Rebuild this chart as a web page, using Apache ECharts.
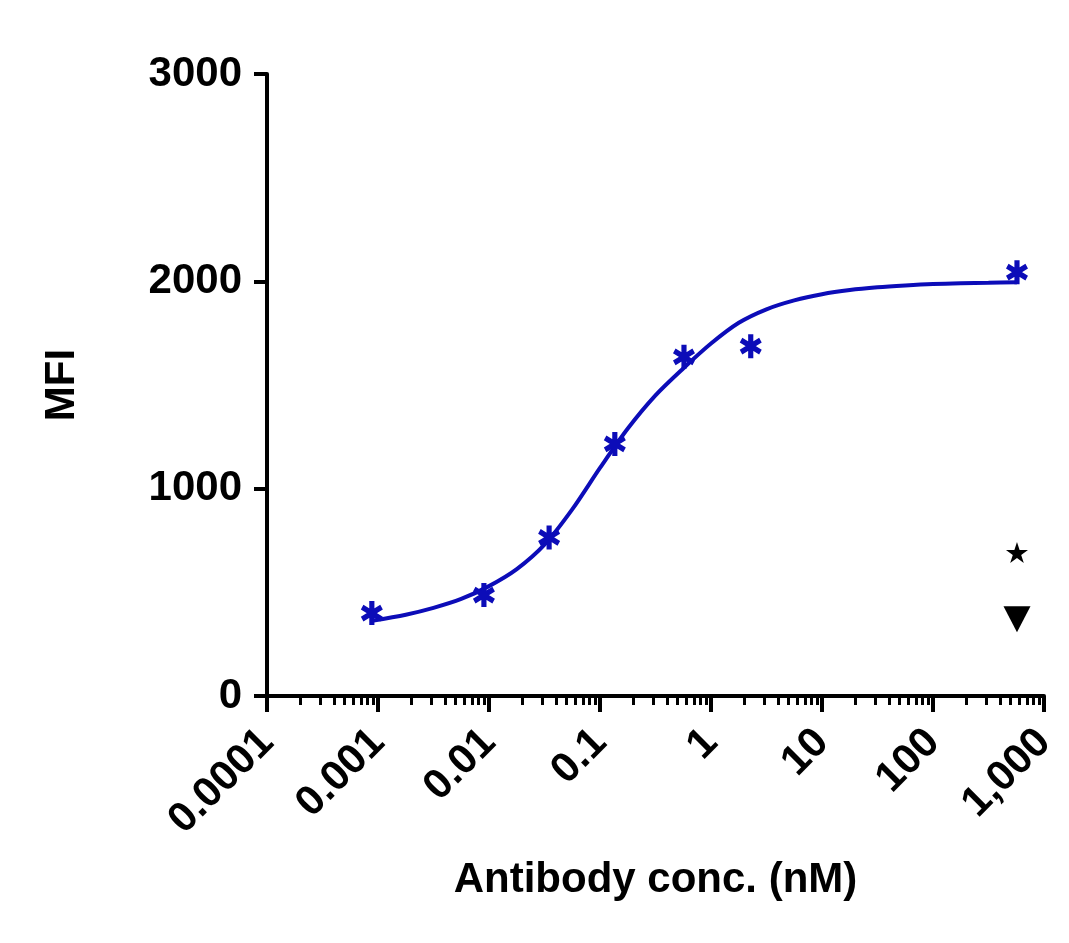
<!DOCTYPE html>
<html>
<head>
<meta charset="utf-8">
<title>MFI vs antibody concentration</title>
<script src="https://cdn.jsdelivr.net/npm/echarts@6/dist/echarts.min.js"></script>
<style>
  html, body { margin: 0; padding: 0; background: #fff; }
  #chart { width: 1069px; height: 943px; }
</style>
</head>
<body>
<div id="chart"></div>
<script>
// measured points (antibody conc in nM, MFI)
var conc = [0.00088, 0.0090, 0.0348, 0.136, 0.571, 2.28, 571];
var mfi = [400, 487, 765, 1216, 1636, 1687, 2044];

// fitted curve
var curveConc = [0.000883, 0.00178, 0.00316, 0.00562, 0.01, 0.0178, 0.0316, 0.0562, 0.1, 0.178, 0.316, 0.562,
  1, 1.78, 3.16, 5.62, 10, 17.8, 31.6, 56.2, 100, 178, 316, 571];
var curveMfi = [363, 392, 425, 468, 530, 612, 730, 900, 1100, 1290, 1450, 1580,
  1700, 1800, 1865, 1908, 1938, 1958, 1971, 1980, 1987, 1991, 1993, 1995];

// controls at the top concentration
var starConc = [571];
var starMfi = [692];
var triConc = [571];
var triMfi = [370];

var xTickLabels = ['0.0001', '0.001', '0.01', '0.1', '1', '10', '100', '1,000'];
var yTicks = [0, 1000, 2000, 3000];

var blue = '#0c0cb8';
var font = "'Liberation Sans', Arial, sans-serif";

var asterisk = 'path://M7.7 0L12.3 0L12.3 20L7.7 20Z' +
  'M2.49 16.99L0.19 13.01L17.51 3.01L19.81 6.99Z' +
  'M19.81 13.01L17.51 16.99L0.19 6.99L2.49 3.01Z';
var star = 'path://M10 0L12.25 6.91L19.51 6.91L13.63 11.18L15.88 18.09L10 13.82L4.12 18.09L6.37 11.18L0.49 6.91L7.75 6.91Z';

function pairs(xs, ys) {
  return xs.map(function (x, i) { return [x, ys[i]]; });
}

// minor ticks 2..9 in every decade
var minorTicks = [];
for (var d = -4; d < 3; d++) {
  for (var m = 2; m <= 9; m++) {
    minorTicks.push(m * Math.pow(10, d));
  }
}

var myChart = echarts.init(document.getElementById('chart'));

var option = {
  animation: false,
  grid: { left: 267, right: 25, top: 74, bottom: 247, containLabel: false },
  xAxis: [
    {
      type: 'log',
      logBase: 10,
      min: 0.0001,
      max: 1000,
      name: 'Antibody conc. (nM)',
      nameLocation: 'middle',
      nameGap: 163,
      nameTextStyle: { fontFamily: font, fontWeight: 'bold', fontSize: 42, color: '#000' },
      axisLine: { onZero: false, lineStyle: { color: '#000', width: 4 } },
      axisTick: { length: 16, lineStyle: { color: '#000', width: 4 } },
      axisLabel: {
        rotate: 45,
        margin: 40,
        fontFamily: font, fontWeight: 'bold', fontSize: 42, color: '#000',
        formatter: function (v) {
          return xTickLabels[Math.round(Math.log10(v)) + 4];
        }
      },
      splitLine: { show: false },
      minorTick: { show: false },
      minorSplitLine: { show: false }
    },
    {
      type: 'log',
      logBase: 10,
      min: 0.0001,
      max: 1000,
      position: 'bottom',
      axisLine: { show: false },
      axisTick: { show: true, customValues: minorTicks, length: 9, lineStyle: { color: '#000', width: 3 } },
      axisLabel: { show: false },
      splitLine: { show: false }
    }
  ],
  yAxis: {
    type: 'value',
    min: 0,
    max: 3000,
    interval: 1000,
    name: 'MFI',
    nameLocation: 'middle',
    nameGap: 184,
    nameTextStyle: { fontFamily: font, fontWeight: 'bold', fontSize: 42, color: '#000' },
    axisLine: { show: true, lineStyle: { color: '#000', width: 4 } },
    axisTick: { show: true, length: 13, lineStyle: { color: '#000', width: 4 } },
    axisLabel: {
      margin: 25,
      fontFamily: font, fontWeight: 'bold', fontSize: 42, color: '#000',
      formatter: function (v) { return yTicks.indexOf(v) >= 0 ? String(v) : ''; }
    },
    splitLine: { show: false }
  },
  series: [
    {
      name: 'fit',
      type: 'line',
      data: pairs(curveConc, curveMfi),
      smooth: 0.3,
      showSymbol: false,
      symbol: 'none',
      lineStyle: { color: blue, width: 4 },
      z: 2
    },
    {
      name: 'MFI',
      type: 'scatter',
      data: pairs(conc, mfi),
      symbol: asterisk,
      symbolSize: [22, 24],
      itemStyle: { color: blue, opacity: 1 },
      z: 3
    },
    {
      name: 'control 1',
      type: 'scatter',
      data: pairs(starConc, starMfi),
      symbol: star,
      symbolSize: [22, 21],
      itemStyle: { color: '#000', opacity: 1 }
    },
    {
      name: 'control 2',
      type: 'scatter',
      data: pairs(triConc, triMfi),
      symbol: 'triangle',
      symbolRotate: 180,
      symbolSize: [27, 26],
      itemStyle: { color: '#000', opacity: 1 }
    }
  ]
};

myChart.setOption(option);
</script>
</body>
</html>
